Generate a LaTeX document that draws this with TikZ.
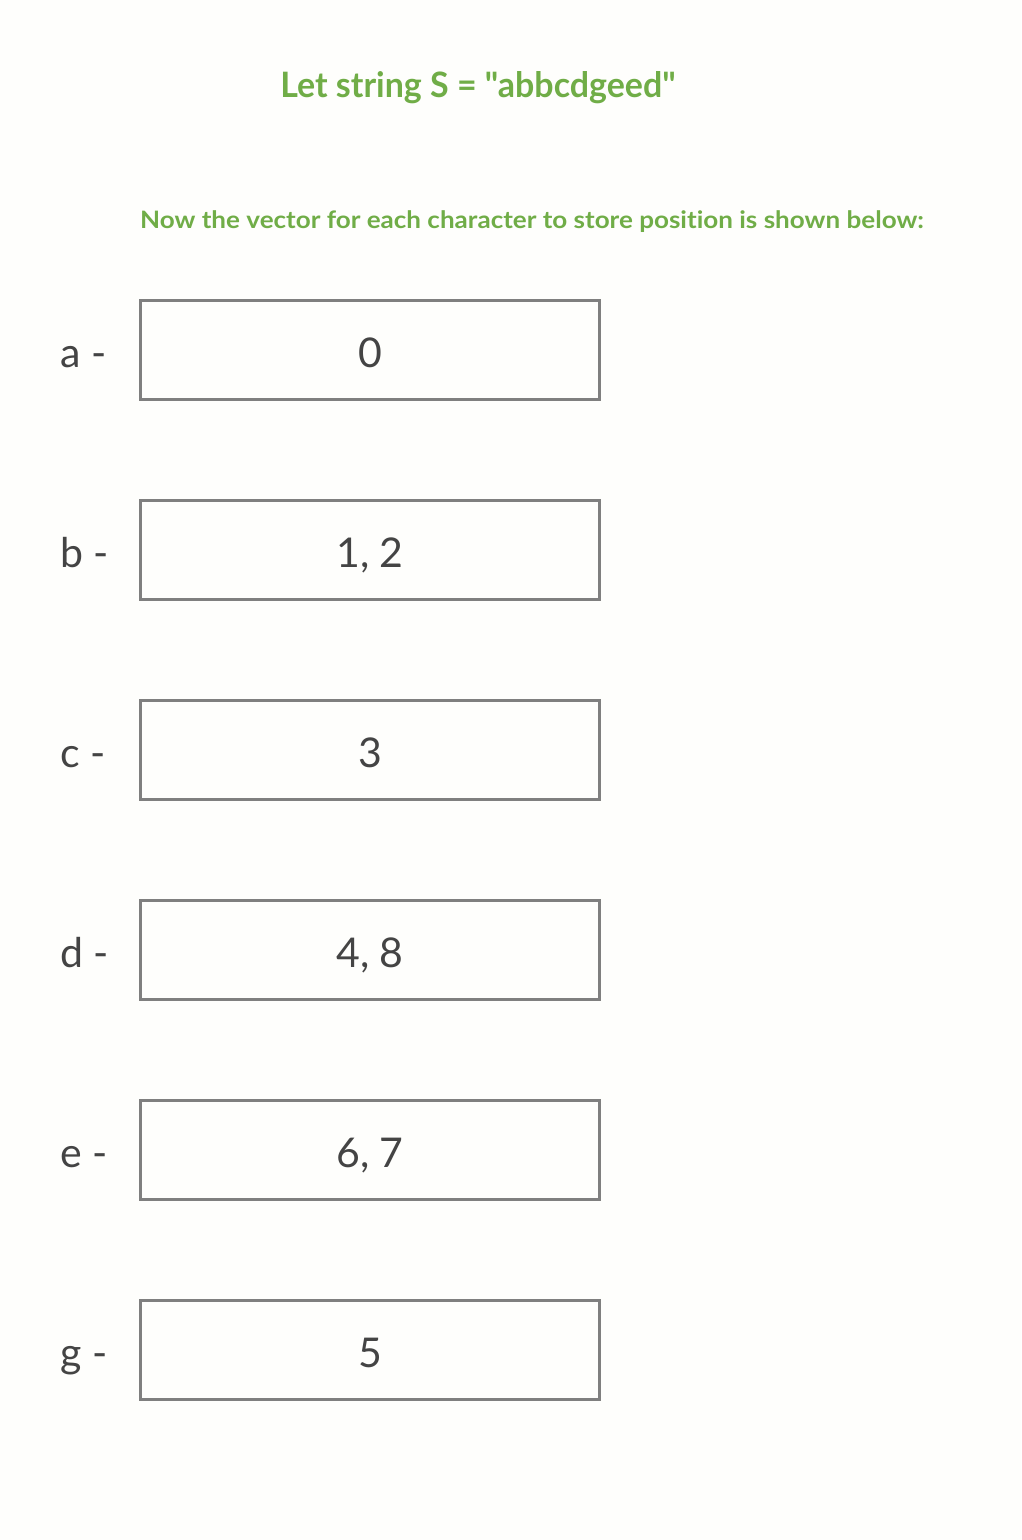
\documentclass[tikz,border=0pt]{standalone}
\usepackage{fontspec}
\setmainfont{Lato}[Ligatures={TeXOff,NoCommon}]
\definecolor{bg}{HTML}{FEFEFC}
\definecolor{ttl}{HTML}{70AD47}
\definecolor{boxc}{HTML}{7F7F7F}
\definecolor{txt}{HTML}{444444}
\begin{document}
\begin{tikzpicture}[x=1pt,y=-1pt,
  cell/.style={draw=boxc,line width=3.2pt,minimum width=459pt,minimum height=99pt,inner sep=0pt,anchor=center},
  lbl/.style={anchor=base west,text=txt,font=\fontsize{41}{48}\selectfont,inner sep=0pt},
  val/.style={anchor=base,text=txt,font=\fontsize{41}{48}\selectfont,inner sep=0pt},
  ttlfont/.style={text=ttl,font=\bfseries\fontsize{35}{40}\selectfont,inner sep=0pt},
  subfont/.style={text=ttl,font=\bfseries\fontsize{24}{28}\selectfont,inner sep=0pt}]
\fill[bg] (0,0) rectangle (1021,1540);
\useasboundingbox (0,0) rectangle (1021,1540);
\node[ttlfont,anchor=base] (title) at (478,97) {\scalebox{0.97}[1]{Let string S = "abbcdgeed"}};
\node[subfont,anchor=base] (sub) at (532,228) {\scalebox{1.085}[1]{Now the vector for each character to store position is shown below:}};
\foreach \n/\c/\v [count=\i from 0] in {a/a/0, b/b/{1, 2}, c/c/3, d/d/{4, 8}, e/e/{6, 7}, g/g/5} {
  \node[cell] (box\n) at (370,{350+200*\i}) {};
  \node[lbl] (lab\n) at (60,{367+200*\i}) {\c\ -};
  \node[val] (val\n) at (370,{367+200*\i}) {\v};
}
\end{tikzpicture}
\end{document}
